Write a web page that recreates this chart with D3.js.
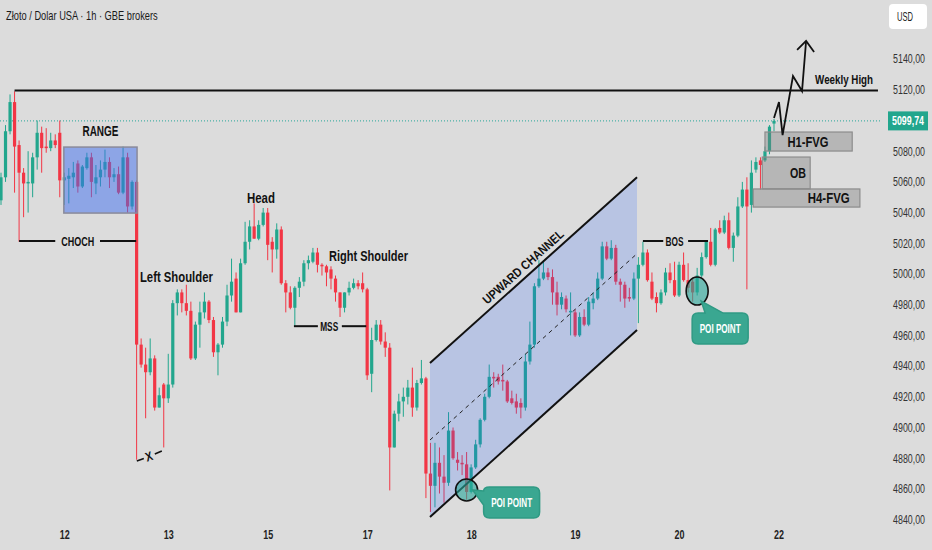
<!DOCTYPE html>
<html>
<head>
<meta charset="utf-8">
<script src="https://cdn.jsdelivr.net/npm/d3@7"></script>
<style>
  body { margin: 0; background: #dcdcdc; }
  svg { display: block; }
</style>
</head>
<body>
<svg id="chart" width="932" height="550"></svg>
<script>
// Hourly candles (USD)
var open = [5048,5063,5093,5112,5084,5066,5059,5059,5076,5092,5083,5082,5087,5092,5061,5062,5063,5072,5057,5069,
  5076,5059,5063,5068,5073,5063,5065,5053,5076,5044,5060,4954,4941,4936,4945,4913,4928,4919,4928,4981,
  4988,4981,4976,4945,4967,4975,4982,4970,4949,4954,4969,4986,4997,4975,5007,5021,5031,5023,5032,5040,
  5021,5016,5029,4994,4988,4978,4991,4995,5007,5008,5014,5006,5005,5003,4997,4988,4978,4988,4991,4994,
  4994,4990,4935,4957,4967,4956,4952,4887,4909,4917,4920,4926,4913,4929,4932,4870,4862,4877,4868,4864,
  4898,4879,4877,4876,4858,4874,4889,4905,4920,4933,4933,4931,4930,4919,4917,4916,4913,4943,4954,4992,
  4997,5001,4998,4988,4980,4984,4975,4975,4960,4972,4967,4981,4984,4997,5018,5010,5017,4995,4993,4985,
  4984,4997,5006,5014,4995,4985,4981,4988,5001,4996,4986,5006,4996,4995,4988,4999,5011,5021,5006,5030,
  5027,5035,5017,5025,5044,5055,5045,5068,5074,5074,5080,5098];
var high = [5066,5097,5117,5119,5087,5069,5080,5079,5100,5096,5095,5092,5091,5100,5066,5069,5073,5074,5071,5079,
  5079,5071,5074,5081,5076,5069,5070,5083,5079,5061,5061,4958,4952,4958,4947,4926,4929,4948,4983,4990,
  4990,4993,4982,4969,4982,4988,4983,4972,4955,4972,4993,5010,5001,5010,5034,5035,5046,5035,5043,5043,
  5024,5033,5031,4996,4992,4992,4998,5009,5012,5017,5017,5007,5006,5005,4999,4988,4988,4995,4997,4996,
  5001,4991,4965,4970,4970,4962,4955,4911,4922,4926,4931,4939,4931,4944,4933,4890,4890,4887,4882,4910,
  4900,4884,4882,4884,4876,4892,4906,4922,4941,4936,4935,4941,4931,4924,4922,4919,4948,4969,4994,5009,
  5009,5004,5003,4995,4988,4986,4988,4977,4975,4977,4985,4988,5001,5021,5021,5022,5019,4997,4995,4991,
  5001,5011,5021,5016,5001,4988,4990,5004,5007,5008,5008,5014,5007,4997,5004,5014,5022,5030,5030,5035,
  5038,5040,5027,5050,5060,5063,5074,5076,5076,5083,5097,5101];
var low = [5045,5060,5091,5053,5021,5037,5040,5050,5068,5066,5079,5080,5082,5050,5045,5046,5056,5053,5056,5068,
  5050,5052,5057,5063,5056,5060,5052,5052,5040,5042,4879,4939,4906,4934,4911,4913,4887,4916,4926,4973,
  4975,4973,4944,4944,4952,4971,4968,4946,4934,4952,4966,4982,4975,4975,5006,5016,5023,5022,5031,5009,
  5001,5010,4993,4975,4977,4966,4985,4992,5003,5007,5001,4999,4992,4990,4982,4972,4975,4986,4990,4990,
  4988,4931,4923,4956,4954,4946,4859,4887,4904,4907,4915,4907,4911,4928,4854,4845,4848,4857,4851,4862,
  4879,4872,4869,4853,4857,4873,4887,4904,4919,4926,4928,4924,4916,4915,4909,4906,4911,4941,4952,4991,
  4996,4996,4980,4973,4977,4975,4960,4959,4959,4966,4966,4977,4983,4996,5009,5009,4993,4982,4978,4982,
  4983,4968,5005,4995,4983,4975,4980,4986,4994,4985,4985,4995,4988,4982,4986,4998,5010,5005,5005,5026,
  5026,5016,5008,5024,5043,4990,5040,5066,5055,5073,5078,5093];
var close = [5063,5093,5112,5083,5066,5059,5060,5076,5092,5082,5082,5087,5084,5061,5063,5064,5066,5057,5070,5076,
  5060,5063,5068,5073,5063,5065,5053,5076,5044,5060,4954,4941,4936,4945,4913,4921,4919,4928,4981,4988,
  4981,4976,4945,4967,4975,4982,4970,4949,4954,4969,4986,4995,4975,5007,5021,5031,5023,5032,5040,5019,
  5016,5029,4994,4988,4978,4991,4995,5007,5009,5014,5006,5005,5001,4997,4988,4978,4988,4991,4994,4992,
  4990,4934,4957,4967,4956,4952,4887,4909,4917,4920,4926,4913,4929,4932,4870,4862,4877,4868,4864,4898,
  4880,4877,4876,4858,4874,4889,4905,4920,4933,4932,4930,4930,4917,4916,4913,4913,4943,4954,4992,4997,
  5001,4998,4988,4980,4985,4977,4976,4960,4972,4967,4982,4984,4997,5018,5010,5017,4995,4993,4984,4984,
  4997,5006,5014,4996,4984,4981,4988,5001,4996,4986,5006,4996,4991,4988,4999,5011,5021,5006,5029,5027,
  5035,5017,5025,5044,5055,5044,5066,5073,5071,5080,5096,5099.74];

// Date ticks (candle index where the day starts)
var dayIdx = [14, 37, 59, 81, 104, 127, 150, 172];
var dayLabels = ["12", "13", "15", "17", "18", "19", "20", "22"];

// Price axis ticks (5100 sits under the last-price tag)
var priceTicks = [5140, 5120, 5080, 5060, 5040, 5020, 5000, 4980, 4960, 4940, 4920, 4900, 4880, 4860, 4840];
var lastPrice = 5099.74;
var weeklyHigh = 5119.5;

var width = 932;
var height = 550;
var FONT = "'Liberation Sans', Arial, sans-serif";
var GREEN = "#22a68d";
var RED = "#f23645";

var svg = d3.select("#chart");

var xScale = d3.scaleLinear().domain([0, 171]).range([1, 774]);
var yScale = d3.scaleLinear().domain([4840, 5140]).range([519.6, 59.1]);

// the chart's font is a condensed one: squeeze a text horizontally to the measured width
function squeeze(sel, w) {
  sel.each(function () {
    var n = this.getComputedTextLength();
    var base = d3.select(this).attr("transform") || "";
    d3.select(this).attr("transform", base + ` scale(${(w / n).toFixed(3)},1)`);
  });
}

function txt(parent, x, y, str, o) {
  o = o || {};
  var t = parent.append("text")
    .attr("transform", `translate(${x},${y})` + (o.rot ? ` rotate(${o.rot})` : "") + (o.dy ? ` translate(0,${o.dy})` : ""))
    .attr("text-anchor", o.anchor || "middle")
    .style("font-family", FONT)
    .style("font-size", (o.size || 14) + "px")
    .style("font-weight", o.weight || "bold")
    .attr("fill", o.fill || "#111")
    .text(str);
  if (o.len) squeeze(t, o.len);
  return t;
}

svg.append("rect").attr("width", width).attr("height", height).attr("fill", "#dcdcdc");

// clip for the price pane
svg.append("clipPath").attr("id", "pane")
  .append("rect").attr("x", 0).attr("y", 0).attr("width", 882).attr("height", 522);

var pane = svg.append("g").attr("clip-path", "url(#pane)");

// Title
txt(svg, 6, 20, "Złoto / Dolar USA · 1h · GBE brokers", { anchor: "start", size: 12.5, weight: "normal", fill: "#1a1a1a", len: 152 });

// last price dotted line
pane.append("line")
  .attr("x1", 0).attr("x2", 882)
  .attr("y1", yScale(lastPrice)).attr("y2", yScale(lastPrice))
  .attr("stroke", "#26a69a").attr("stroke-width", 1).attr("stroke-dasharray", "1,2");

// Candles
var candles = pane.selectAll(".candle")
  .data(d3.range(close.length))
  .enter().append("g").attr("class", "candle");

candles.append("line")
  .attr("x1", i => xScale(i)).attr("x2", i => xScale(i))
  .attr("y1", i => yScale(high[i])).attr("y2", i => yScale(low[i]))
  .attr("stroke", i => close[i] >= open[i] ? GREEN : RED).attr("stroke-width", 1);

candles.append("rect")
  .attr("x", i => xScale(i) - 1.6)
  .attr("width", 3.2)
  .attr("y", i => yScale(Math.max(open[i], close[i])))
  .attr("height", i => Math.max(1, Math.abs(yScale(open[i]) - yScale(close[i]))))
  .attr("fill", i => close[i] >= open[i] ? GREEN : RED);

// Range box
var rangeBox = { i0: 13.9, i1: 30.1, p0: 5082.7, p1: 5039.7 };
pane.append("rect")
  .attr("x", xScale(rangeBox.i0)).attr("y", yScale(rangeBox.p0))
  .attr("width", xScale(rangeBox.i1) - xScale(rangeBox.i0))
  .attr("height", yScale(rangeBox.p1) - yScale(rangeBox.p0))
  .attr("fill", "#3d6df0").attr("fill-opacity", 0.5)
  .attr("stroke", "#8a8a9a").attr("stroke-width", 1.5);

// Upward channel
var chan = { i0: 94.9, i1: 140.7, top0: 4942, top1: 5063, bot0: 4841.7, bot1: 4963.5 };
var cx0 = xScale(chan.i0), cx1 = xScale(chan.i1);
pane.append("path")
  .attr("d", `M${cx0},${yScale(chan.top0)} L${cx1},${yScale(chan.top1)} L${cx1},${yScale(chan.bot1)} L${cx0},${yScale(chan.bot0)} Z`)
  .attr("fill", "#2962ff").attr("fill-opacity", 0.2);
pane.append("line")
  .attr("x1", cx0).attr("y1", yScale(chan.top0)).attr("x2", cx1).attr("y2", yScale(chan.top1))
  .attr("stroke", "#111").attr("stroke-width", 2);
pane.append("line")
  .attr("x1", cx0).attr("y1", yScale(chan.bot0)).attr("x2", cx1).attr("y2", yScale(chan.bot1))
  .attr("stroke", "#111").attr("stroke-width", 2);
pane.append("line")
  .attr("x1", cx0).attr("y1", (yScale(chan.top0) + yScale(chan.bot0)) / 2)
  .attr("x2", cx1).attr("y2", (yScale(chan.top1) + yScale(chan.bot1)) / 2)
  .attr("stroke", "#222").attr("stroke-width", 1).attr("stroke-dasharray", "4,4");

var ang = Math.atan2(yScale(chan.top1) - yScale(chan.top0), cx1 - cx0) * 180 / Math.PI;
var tmx = cx0 + (cx1 - cx0) * 0.48;
var tmy = yScale(chan.top0) + (yScale(chan.top1) - yScale(chan.top0)) * 0.48;
txt(pane, tmx, tmy, "UPWARD CHANNEL", { rot: ang, dy: -5, size: 12.5, len: 104 });

// FVG / OB boxes
var zones = [
  { name: "H4-FVG", i0: 166.4, i1: 190, p0: 5055.4, p1: 5043.6, tx: 183.1, w: 42 },
  { name: "OB", i0: 168.4, i1: 179, p0: 5076.2, p1: 5055.4, tx: 176.3, w: 16 },
  { name: "H1-FVG", i0: 169, i1: 188.3, p0: 5092.5, p1: 5080.1, tx: 178.5, w: 41 }
];
zones.forEach(function (z) {
  pane.append("rect")
    .attr("x", xScale(z.i0)).attr("y", yScale(z.p0))
    .attr("width", xScale(z.i1) - xScale(z.i0))
    .attr("height", yScale(z.p1) - yScale(z.p0))
    .attr("fill", "#7a7a7a").attr("fill-opacity", 0.38)
    .attr("stroke", "#8c8c8c").attr("stroke-width", 1.2);
});
zones.forEach(function (z) {
  txt(pane, xScale(z.tx), (yScale(z.p0) + yScale(z.p1)) / 2 + 5, z.name, { size: 14, len: z.w });
});

// Weekly high line
pane.append("line")
  .attr("x1", xScale(3)).attr("x2", xScale(194))
  .attr("y1", yScale(weeklyHigh)).attr("y2", yScale(weeklyHigh))
  .attr("stroke", "#111").attr("stroke-width", 2);
txt(pane, xScale(186.5), yScale(weeklyHigh) - 7, "Weekly High", { size: 13.5, len: 58 });

// Labelled horizontal levels (CHOCH, MSS, BOS)
var levels = [
  { name: "CHOCH", p: 5021.5, a0: 4, a1: 12, t: 17, b0: 21.9, b1: 29.9, w: 33 },
  { name: "MSS", p: 4966, a0: 64.8, a1: 70.1, t: 72.6, b0: 75.4, b1: 80.8, w: 18 },
  { name: "BOS", p: 5021.5, a0: 142, a1: 146.5, t: 149, b0: 152, b1: 156.4, w: 18 }
];
levels.forEach(function (l) {
  pane.append("line")
    .attr("x1", xScale(l.a0)).attr("x2", xScale(l.a1))
    .attr("y1", yScale(l.p)).attr("y2", yScale(l.p))
    .attr("stroke", "#111").attr("stroke-width", 2);
  pane.append("line")
    .attr("x1", xScale(l.b0)).attr("x2", xScale(l.b1))
    .attr("y1", yScale(l.p)).attr("y2", yScale(l.p))
    .attr("stroke", "#111").attr("stroke-width", 2);
  txt(pane, xScale(l.t), yScale(l.p) + 5, l.name, { size: 13.5, len: l.w });
});

// Pattern labels
var labels = [
  { name: "RANGE", i: 22, p: 5090, w: 36 },
  { name: "Head", i: 57.5, p: 5046.5, w: 28 },
  { name: "Left Shoulder", i: 38.8, p: 4995, w: 73 },
  { name: "Right Shoulder", i: 81.3, p: 5008.5, w: 79 }
];
labels.forEach(function (l) {
  txt(pane, xScale(l.i), yScale(l.p), l.name, { size: 14, len: l.w });
});

// X marker at the sweep low
var xm = { i: 32.7, p: 4881.5 };
var xmx = xScale(xm.i), xmy = yScale(xm.p);
pane.append("line").attr("x1", xmx - 12).attr("y1", xmy + 5).attr("x2", xmx - 5).attr("y2", xmy + 2.5)
  .attr("stroke", "#111").attr("stroke-width", 1.6);
pane.append("line").attr("x1", xmx + 6).attr("y1", xmy - 2).attr("x2", xmx + 13).attr("y2", xmy - 5)
  .attr("stroke", "#111").attr("stroke-width", 1.6);
txt(pane, xmx, xmy, "X", { rot: -18, dy: 5, size: 13, len: 7 });

// POI points
function poi(i, p, rx, ry, side) {
  var px = xScale(i), py = yScale(p);
  pane.append("ellipse")
    .attr("cx", px).attr("cy", py).attr("rx", rx).attr("ry", ry)
    .attr("fill", "#26a69a").attr("fill-opacity", 0.6)
    .attr("stroke", "#111").attr("stroke-width", 1.6);
  var bx, by, bw = 56, bh = 31, r = 6, d;
  if (side === "right") {
    bx = px + 17; by = py - 3;
    d = `M${bx + r},${by} H${bx + bw - r} Q${bx + bw},${by} ${bx + bw},${by + r} V${by + bh - r} Q${bx + bw},${by + bh} ${bx + bw - r},${by + bh}` +
        ` H${bx + r} Q${bx},${by + bh} ${bx},${by + bh - r} V${by + 18} L${px + 6},${py} L${bx},${by + 4} Q${bx},${by} ${bx + r},${by} Z`;
  } else {
    bx = px - 5; by = py + 22;
    d = `M${bx + r},${by} H${px + 8} L${px + 4},${py + 10} L${px + 26},${by} H${bx + bw - r} Q${bx + bw},${by} ${bx + bw},${by + r} V${by + bh - r} Q${bx + bw},${by + bh} ${bx + bw - r},${by + bh}` +
        ` H${bx + r} Q${bx},${by + bh} ${bx},${by + bh - r} V${by + r} Q${bx},${by} ${bx + r},${by} Z`;
  }
  pane.append("path").attr("d", d)
    .attr("fill", "#3aa791").attr("stroke", "#2f9a84").attr("stroke-width", 1.5);
  txt(pane, bx + bw / 2, by + bh / 2 + 4.5, "POI POINT", { size: 12.5, fill: "#fff", len: 41 });
}
poi(103, 4859.3, 11, 11, "right");
poi(154, 4988.9, 11, 14, "below");

// Projected zigzag path with arrow
var zigIdx = [171, 172.1, 172.9, 175.2, 177.2, 178.1];
var zigPrice = [5101.6, 5112, 5090.5, 5129, 5119.2, 5151.8];
var zig = d3.line().x(d => xScale(d[0])).y(d => yScale(d[1]));
var zigPts = zigIdx.map((v, k) => [v, zigPrice[k]]);
svg.append("path").attr("d", zig(zigPts))
  .attr("fill", "none").attr("stroke", "#111").attr("stroke-width", 1.8);
var tipX = xScale(zigIdx[5]), tipY = yScale(zigPrice[5]);
svg.append("path")
  .attr("d", `M${tipX - 9},${tipY + 9} L${tipX},${tipY} L${tipX + 8},${tipY + 11}`)
  .attr("fill", "none").attr("stroke", "#111").attr("stroke-width", 1.8);

// Price axis (right)
var yAxis = d3.axisLeft(yScale).tickValues(priceTicks).tickSize(0).tickPadding(0)
  .tickFormat(d => d3.format(".2f")(d).replace(".", ","));
var yAxisG = svg.append("g")
  .attr("transform", "translate(925,0)")
  .call(yAxis);
yAxisG.select(".domain").remove();
yAxisG.selectAll("text")
  .style("font-family", FONT).style("font-size", "12px").attr("fill", "#333")
  .call(squeeze, 32);

// Last price tag
svg.append("rect")
  .attr("x", 888).attr("y", yScale(lastPrice) - 9.5).attr("width", 40).attr("height", 19)
  .attr("fill", "#22a68d");
txt(svg, 908, yScale(lastPrice) + 4.5, d3.format(".2f")(lastPrice).replace(".", ","), { size: 12, fill: "#fff", len: 32 });

// Currency box
svg.append("rect")
  .attr("x", 889).attr("y", 4).attr("width", 38).attr("height", 25).attr("rx", 4)
  .attr("fill", "#fff");
txt(svg, 897, 21, "USD", { anchor: "start", size: 12.5, weight: "normal", fill: "#222", len: 16 });

// Date axis (bottom)
var xAxis = d3.axisBottom(xScale).tickValues(dayIdx).tickSize(0).tickPadding(0)
  .tickFormat((d, k) => dayLabels[k]);
var xAxisG = svg.append("g").attr("transform", "translate(0,530)").call(xAxis);
xAxisG.select(".domain").remove();
xAxisG.selectAll("text")
  .style("font-family", FONT).style("font-size", "12.5px").style("font-weight", "bold")
  .attr("fill", "#222")
  .call(squeeze, 10);
</script>
</body>
</html>
